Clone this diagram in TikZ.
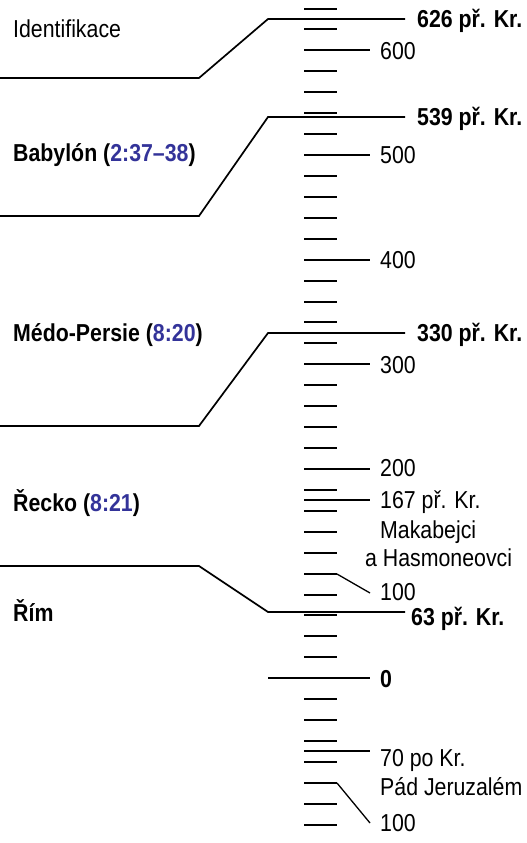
\documentclass[tikz,border=0pt]{standalone}
\usepackage{fontspec}
\setmainfont{Liberation Sans}[FakeStretch=0.87]
\usetikzlibrary{calc}
\definecolor{refblue}{RGB}{51,51,153}
\newcommand\fsz{\fontsize{24.5}{29}\selectfont}
\newcommand\vref[1]{\textcolor{refblue}{#1}}
\tikzset{
  lbl/.style={anchor=base west, inner sep=0pt, font=\fsz},
  blbl/.style={anchor=base west, inner sep=0pt, font=\fsz\bfseries},
  tickline/.style={line width=2pt},
  evline/.style={line width=1.7pt},
  diag/.style={line width=1.3pt},
}
\begin{document}
\begin{tikzpicture}[x=1pt,y=-1pt]
\useasboundingbox (0,0) rectangle (527,843);
% ticks every 20 years, 640 BC to 140 AD
\foreach \k in {0,...,39}{
  \pgfmathsetmacro\ty{round(8.5+20.93*\k)}
  \coordinate (tL\k) at (304,\ty);
  \coordinate (tR\k) at (337,\ty);
  \coordinate (tE\k) at (370,\ty);
  \draw[tickline] (tL\k) -- (tR\k);
}
% long ticks
\foreach \k in {2,7,12,17,22}{
  \draw[tickline] (tL\k) -- (tE\k);
}
\coordinate (zeroL) at (268,678);
\draw[tickline] (zeroL) -- (tE32);
% special year lines
\coordinate (y167L) at (304,500); \coordinate (y167R) at (370,500);
\draw[tickline] (y167L) -- (y167R);
\coordinate (y70L) at (304,751); \coordinate (y70R) at (370,751);
\draw[tickline] (y70L) -- (y70R);
% diagonal pointers to 100
\coordinate (p100bc) at (370,593);
\coordinate (p100ad) at (370,823);
\draw[diag] (tR27) -- (p100bc);
\draw[diag] (tR37) -- (p100ad);
% empire boundary lines
\coordinate (a626) at (405,19); \coordinate (b626) at (268,19);
\coordinate (c626) at (199,78); \coordinate (d626) at (0,78);
\draw[evline] (a626) -- (b626) -- (c626) -- (d626);
\coordinate (a539) at (405,117); \coordinate (b539) at (268,117);
\coordinate (c539) at (199,216); \coordinate (d539) at (0,216);
\draw[evline] (a539) -- (b539) -- (c539) -- (d539);
\coordinate (a330) at (405,333); \coordinate (b330) at (268,333);
\coordinate (c330) at (199,426); \coordinate (d330) at (0,426);
\draw[evline] (a330) -- (b330) -- (c330) -- (d330);
\coordinate (a63) at (405,612); \coordinate (b63) at (268,612);
\coordinate (c63) at (199,566); \coordinate (d63) at (0,566);
\draw[evline] (a63) -- (b63) -- (c63) -- (d63);
% right labels
\node[blbl] (l626) at (417,27.7) {626 př. Kr.};
\node[lbl] (l600) at (380,59.1) {600};
\node[blbl] (l539) at (417,125.7) {539 př. Kr.};
\node[lbl] (l500) at (380,163.7) {500};
\node[lbl] (l400) at (380,268.4) {400};
\node[blbl] (l330) at (417,341.7) {330 př. Kr.};
\node[lbl] (l300) at (380,373) {300};
\node[lbl] (l200) at (380,476.5) {200};
\node[lbl] (l167) at (380,508.7) {167 př. Kr.};
\node[lbl] (lmak) at (380,538.7) {Makabejci};
\node[lbl] (lhas) at (365,566.7) {a Hasmoneovci};
\node[lbl] (l100bc) at (380,600.7) {100};
\node[blbl] (l63) at (411,625.7) {63 př. Kr.};
\node[blbl] (l0) at (380,687.7) {0};
\node[lbl] (l70) at (380,766.7) {70 po Kr.};
\node[lbl] (ljer) at (380,795.7) {Pád Jeruzalém};
\node[lbl] (l100ad) at (380,831.7) {100};
% left labels
\node[lbl] (lid) at (13,37.7) {Identifikace};
\node[blbl] (lbab) at (13,161.7) {Babylón (\vref{2:37–38})};
\node[blbl] (lmed) at (13,341.7) {Médo-Persie (\vref{8:20})};
\node[blbl] (lrec) at (13,511.7) {Řecko (\vref{8:21})};
\node[blbl] (lrim) at (13,621.7) {Řím};
\end{tikzpicture}
\end{document}
